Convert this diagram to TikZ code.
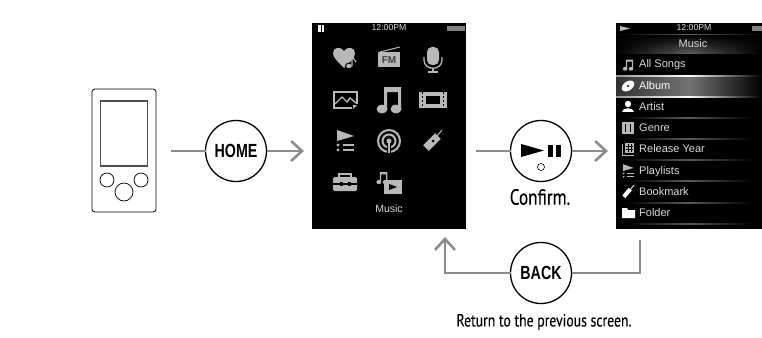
\documentclass[tikz,border=0pt]{standalone}
\usepackage{fontspec}
\setmainfont{Liberation Sans}
\newfontfamily\capfont[FakeStretch=0.78,FakeBold=0.2]{PT Sans}
\newfontfamily\keyfont[FakeStretch=0.75]{Liberation Sans}
\usetikzlibrary{arrows.meta,fadings}
\definecolor{flowgray}{gray}{0.55}
\definecolor{icongray}{gray}{0.72}
\tikzset{
  flow/.style={draw=flowgray,line width=2.6pt},
  flowarrow/.style={flow,-{Straight Barb[length=11pt,width=20pt,line width=2.6pt]},shorten >=8pt},
  keybtn/.style={circle,draw,line width=1.3pt,fill=white,minimum size=61pt,inner sep=0pt,outer sep=0pt,font=\keyfont\bfseries\fontsize{19}{19}\selectfont},
  screen/.style={fill=black,inner sep=0pt,outer sep=0pt,minimum height=206pt},
  lcd/.style={text=black!15,font=\fontsize{10.5}{12}\selectfont,inner sep=0pt},
  rowtext/.style={lcd,anchor=west,font=\fontsize{11}{12}\selectfont,text height=8pt,text depth=2pt},
  captext/.style={inner sep=0pt,font=\capfont},
  knob/.style={circle,draw,line width=.7pt,inner sep=0pt,outer sep=0pt},
  rowline/.style={left color=black,right color=black,middle color=black!65},
  icon/.style={fill=icongray,draw=none},
  note/.pic={
    \fill[icon] (-5,-13) -- (12,-13) -- (12,9) -- (9,9) -- (9,-8) -- (-2,-8) -- (-2,9) -- (-5,9) -- cycle;
    \fill[icon] (-7,9) ellipse [x radius=5.5,y radius=4.5];
    \fill[icon] (7,9) ellipse [x radius=5.5,y radius=4.5];
  },
  playlist/.pic={
    \fill[icon] (-8,-11) -- (9,-5) -- (-8,0) -- cycle;
    \fill[icon] (-7,4) circle (1.6);
    \fill[icon] (-7,9) circle (1.6);
    \fill[icon] (-2,3) rectangle (9,5);
    \fill[icon] (-2,8) rectangle (9,10);
  },
  marker/.pic={
    \fill[icon,rotate=45] (-10,-4) rectangle (7,4);
    \draw[icongray,line width=1pt] (4,-5) -- (9,-11);
    \fill[black] (0,0) circle (1.5);
  }
}
\begin{document}
\begin{tikzpicture}[x=1pt,y=-1pt]
  \useasboundingbox (0,0) rectangle (762,337);

  % player
  \node[draw,line width=.8pt,rounded corners=3pt,minimum width=64pt,minimum height=123pt,inner sep=0pt,outer sep=0pt] (device) at (124,150.5) {};
  \node[draw=black!70,line width=1.5pt,minimum width=47pt,minimum height=65pt,inner sep=0pt] (devscreen) at (124,133.5) {};
  \node[knob,minimum size=14pt] (knobl) at (107,180) {};
  \node[knob,minimum size=14pt] (knobr) at (141,180) {};
  \node[knob,minimum size=18pt] (knobc) at (124,192) {};

  % screens
  \node[screen,minimum width=154pt] (menu) at (389,126) {};
  \node[screen,minimum width=146pt] (list) at (689,126) {};

  % keys
  \node[keybtn] (home) at (236,151) {HOME};
  \node[keybtn] (play) at (541,151) {};
  \node[keybtn] (back) at (541,273) {BACK};
  \fill (521,144) -- (544,150.5) -- (521,157) -- cycle;
  \fill (548,145) rectangle (553,157);
  \fill (556,145) rectangle (561,157);
  \node[knob,line width=.6pt,minimum size=7pt] (playdot) at (541,167) {};

  % connectors
  \coordinate (devout) at (171,151);
  \coordinate (playin) at (476,151);
  \coordinate (backin) at (640,240);
  \coordinate (backout) at (445,229);
  \draw[flow] (devout) -- (home);
  \draw[flowarrow] (home) -- (home -| menu.west);
  \draw[flow] (playin) -- (play);
  \draw[flowarrow] (play) -- (play -| list.west);
  \draw[flow] (backin) |- (back);
  \draw[flowarrow] (back) -| (backout);

  % captions
  \node[captext,font=\capfont\fontsize{22}{22}\selectfont] (confirm) at (540,197) {Confirm.};
  \node[captext,font=\capfont\fontsize{17.6}{18}\selectfont] (return) at (544,322) {Return to the previous screen.};

  % menu screen
  \fill[white] (318,25) rectangle (320.5,32);
  \fill[white] (321.5,25) rectangle (324,32);
  \node[lcd,font=\fontsize{8.7}{10}\selectfont] (menutime) at (389,28) {12:00PM};
  \fill[black!50] (447,26) rectangle (465,31);
  \node[lcd,font=\fontsize{10.5}{12}\selectfont] (menuname) at (389,209) {Music};

  % heart
  \fill[icon] (344,68) .. controls (336,60) and (333,57) .. (333,53) .. controls (333,47) and (341,46) .. (344,51) .. controls (347,46) and (355,47) .. (355,53) .. controls (355,57) and (352,60) .. (344,68) -- cycle;
  \draw[black,line width=1pt,fill=icongray] (349,66) ellipse [x radius=3.5,y radius=2.8];
  \draw[icongray,line width=1.2pt] (352,66) -- (352,56) -- (356,62);
  % radio
  \fill[icon] (378,52) rectangle (400,67);
  \draw[icongray,line width=1pt] (380,52) -- (400,47);
  \node[inner sep=0pt,text=black!75,font=\bfseries\fontsize{10}{10}\selectfont] (fmtext) at (389,60) {FM};
  % mic
  \fill[icon,rounded corners=5pt] (427,47) rectangle (439,65);
  \draw[icongray,line width=1.3pt] (424,57) -- (424,60) .. controls (424,71) and (442,71) .. (442,60) -- (442,57);
  \draw[icongray,line width=1.3pt] (433,68) -- (433,72);
  \draw[icongray,line width=1.3pt] (428,72) -- (438,72);
  % photo
  \draw[icongray,line width=1.4pt] (357,104) -- (357,92) -- (334,92) -- (334,108) -- (352,108);
  \draw[icongray,line width=1.4pt] (335,104) -- (342,97) -- (347,102) -- (350,98) -- (356,103);
  \fill[icon] (353,109) -- (357,105) -- (353,105) -- cycle;
  % music
  \pic at (389,100) {note};
  % film
  \fill[icon] (419,92) rectangle (447,108);
  \fill[black] (426,96) rectangle (440,104);
  \draw[black,line width=.8pt,dash pattern=on 2pt off 2pt] (422.5,92) -- (422.5,108);
  \draw[black,line width=.8pt,dash pattern=on 2pt off 2pt] (443.5,92) -- (443.5,108);
  % playlists
  \pic at (345,141) {playlist};
  % podcast
  \draw[icongray,line width=2pt] (389,141) circle (11);
  \draw[icongray,line width=2pt] (389,141) circle (6.5);
  \fill[icon] (389,141) circle (2.5);
  \draw[black,line width=3.5pt] (389,144) -- (389,153);
  \draw[icongray,line width=1.3pt] (389,142) -- (389,153);
  % bookmark
  \pic at (433,141) {marker};
  % toolbox
  \fill[icon,rounded corners=1.5pt] (333,177) rectangle (357,191);
  \fill[black] (333,183) rectangle (357,184.5);
  \fill[black] (340,182) rectangle (343,186);
  \fill[black] (348,182) rectangle (351,186);
  \draw[icongray,line width=1.5pt] (339,177) -- (339,174) -- (351,174) -- (351,177);
  % music video
  \pic[scale=.45] at (382,178) {note};
  \fill[icon] (384,180) rectangle (402,194);
  \fill[black] (389,184) -- (397,187) -- (389,190) -- cycle;

  % list screen
  \shade[left color=black,right color=black,middle color=black!62] (616,35) rectangle (762,54);
  \fill[black,path fading=south] (616,35) rectangle (762,54);
  \shade[left color=black!80,right color=black,middle color=black!55] (616,75) rectangle (762,97);
  \shade[left color=black!40,right color=black,middle color=white] (616,75) rectangle (762,76.2);
  \shade[left color=black!40,right color=black,middle color=white] (616,96) rectangle (762,97.2);
  \shade[rowline] (625,117.6) rectangle (752,118.4);
  \shade[rowline] (625,138.6) rectangle (752,139.4);
  \shade[rowline] (625,159.6) rectangle (752,160.4);
  \shade[rowline] (625,180.6) rectangle (752,181.4);
  \shade[rowline] (625,202.6) rectangle (752,203.4);
  \shade[rowline] (625,223.6) rectangle (752,224.4);

  \fill[icon] (620,26) -- (630,28.5) -- (620,31) -- cycle;
  \node[lcd,font=\fontsize{8.7}{10}\selectfont] (listtime) at (694,28) {12:00PM};
  \fill[black!50] (752,26) rectangle (762,31);
  \node[lcd,font=\fontsize{11}{12}\selectfont] (listname) at (693,44) {Music};

  \node[rowtext] (songs) at (639,64) {All Songs};
  \node[rowtext,text=white] (album) at (639,86) {Album};
  \node[rowtext] (artist) at (639,107) {Artist};
  \node[rowtext] (genre) at (639,128) {Genre};
  \node[rowtext] (year) at (639,149) {Release Year};
  \node[rowtext] (lists) at (639,171) {Playlists};
  \node[rowtext] (marks) at (639,192) {Bookmark};
  \node[rowtext] (folder) at (639,213) {Folder};

  \pic[scale=.42] at (628,65) {note};
  \fill[white,rotate around={35:(628,86)}] (628,86) ellipse [x radius=7,y radius=4.5];
  \fill[black] (628,86) circle (1.2);
  \fill[white] (628,104) circle (3.2);
  \fill[white] (622,112) .. controls (622,107) and (634,107) .. (634,112) -- cycle;
  \fill[icon] (622,122) rectangle (634,134);
  \fill[black] (625,124) rectangle (626,132);
  \fill[black] (630,124) rectangle (631,132);
  \draw[icongray,line width=1pt] (622,144) -- (622,155) -- (634,155);
  \fill[icon] (624.5,143) rectangle (634,153);
  \draw[black,line width=.6pt] (626,146) -- (633,146) (626,149) -- (633,149) (628,144) -- (628,152) (631,144) -- (631,152);
  \pic[scale=.62] at (628,171) {playlist};
  \fill[white,rotate around={50:(627,193)}] (622,191) rectangle (632,195);
  \draw[white,line width=.8pt] (630,190) -- (634,185);
  \fill[white] (622,208) -- (627,208) -- (628,210) -- (635,210) -- (635,218) -- (622,218) -- cycle;
\end{tikzpicture}
\end{document}
